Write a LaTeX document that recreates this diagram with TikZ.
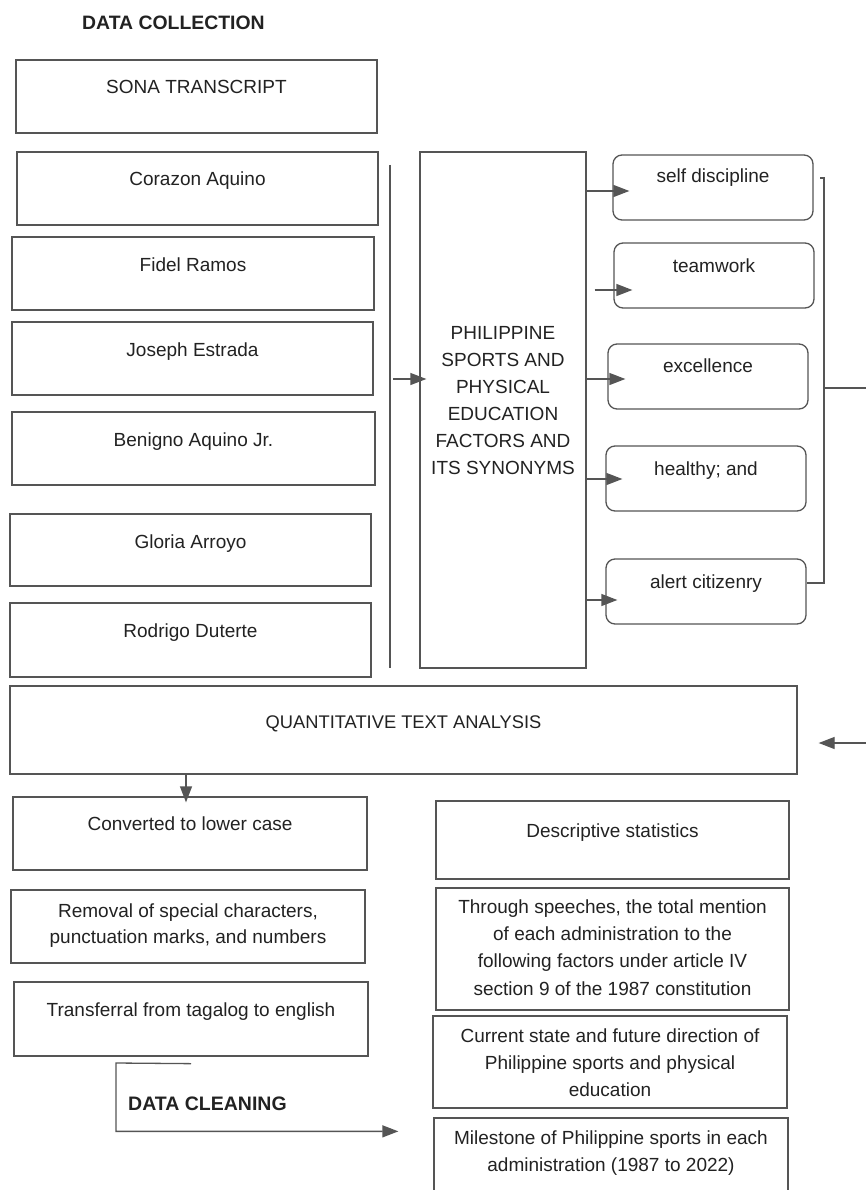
\documentclass[tikz,border=0pt]{standalone}
\usepackage{fontspec}
\setmainfont{Liberation Sans}
\usetikzlibrary{arrows.meta,calc,fit}

\definecolor{edge}{HTML}{555555}
\definecolor{ink}{HTML}{222222}

\tikzset{
  box/.style={draw=edge, line width=1.3pt, inner sep=0pt},
  rbox/.style={box, rounded corners=9pt},
  % multi-line texts sit on the baseline of their last line
  txt/.style={text=ink, anchor=base, inner sep=0pt, align=center,
              font=\fontsize{19}{27}\selectfont},
  head/.style={text=ink, anchor=base west, inner sep=0pt,
              font=\fontsize{19.4}{24}\selectfont\bfseries},
  ln/.style={draw=edge, line width=1.3pt},
  arr/.style={ln, -{Triangle[length=16pt,width=12pt]}, color=edge},
}

% box from its two corners: [style]{name}{top left}{bottom right}
\newcommand{\mkbox}[4][box]{\node[#1, fit={(#3) (#4)}] (#2) {};}

\begin{document}
\begin{tikzpicture}[x=1pt,y=-1pt]
\useasboundingbox (0,0) rectangle (865,1190);
\fill[white] (0,0) rectangle (865,1190);

% ---- data collection ----
\node[head] (hcol) at (82,30) {DATA COLLECTION};

\mkbox{sona}{16,60}{377,133}
\node[txt] (sona-t) at (sona.center |- 0,94) {SONA TRANSCRIPT};

\mkbox{cory}{17,152}{378,225}
\node[txt] (cory-t) at (cory.center |- 0,186) {Corazon Aquino};
\mkbox{fvr}{12,237}{374,310}
\node[txt] (fvr-t) at (fvr.center |- 0,271) {Fidel Ramos};
\mkbox{erap}{12,322}{373,395}
\node[txt] (erap-t) at (erap.center |- 0,356) {Joseph Estrada};
\mkbox{noy}{12,412}{375,485}
\node[txt] (noy-t) at (noy.center |- 0,446) {Benigno Aquino Jr.};
\mkbox{gma}{10,514}{371,586}
\node[txt] (gma-t) at (gma.center |- 0,548) {Gloria Arroyo};
\mkbox{rrd}{10,603}{371,677}
\node[txt] (rrd-t) at (rrd.center |- 0,637) {Rodrigo Duterte};

% ---- factors ----
\mkbox{phil}{420,152}{586,668}
\node[txt] (phil-t) at (phil.center |- 0,474)
  {PHILIPPINE\\SPORTS AND\\PHYSICAL\\EDUCATION\\FACTORS AND\\ITS SYNONYMS};

\mkbox[rbox]{sd}{613,155}{813,220}
\node[txt] (sd-t) at (sd.center |- 0,183) {self discipline};
\mkbox[rbox]{tw}{614,243}{814,308}
\node[txt] (tw-t) at (tw.center |- 0,272) {teamwork};
\mkbox[rbox]{ex}{608,344}{808,409}
\node[txt] (ex-t) at (ex.center |- 0,372) {excellence};
\mkbox[rbox]{hl}{606,446}{806,511}
\node[txt] (hl-t) at (hl.center |- 0,475) {healthy; and};
\mkbox[rbox]{al}{606,559}{806,624}
\node[txt] (al-t) at (al.center |- 0,588) {alert citizenry};

% presidents gathered into the factor list
\coordinate (vt) at (390,165);
\coordinate (vb) at (390,668);
\draw[ln] (vt) -- (vb);
\coordinate (vm) at (393,379);
\coordinate (ph-in) at ($(phil.west |- vm)+(7,0)$);
\draw[arr] (vm) -- (ph-in);

% factor list to each factor
\coordinate (sd-in) at ($(sd.west)+(17,3.5)$);
\draw[arr] (phil.east |- sd-in) -- (sd-in);
\coordinate (tw-in) at ($(tw.west)+(19,14.5)$);
\coordinate (tw-out) at ($(phil.east |- tw-in)+(8,0)$);
\draw[arr] (tw-out) -- (tw-in);
\coordinate (ex-in) at ($(ex.west)+(18,2.5)$);
\draw[arr] (phil.east |- ex-in) -- (ex-in);
\coordinate (hl-in) at ($(hl.west)+(17,0.5)$);
\draw[arr] (phil.east |- hl-in) -- (hl-in);
\coordinate (al-in) at ($(al.west)+(12,8.5)$);
\draw[arr] ($(phil.east |- al-in)+(-1,0)$) -- (al-in);

% bracket over the factors
\coordinate (bt) at (824,178);
\coordinate (bb) at (824,583);
\draw[ln] ($(bt)+(-4,0)$) -- (bt) -- (bb) -- (al.east |- bb);
\coordinate (bm) at (824,388);
\draw[ln] (bm) -- (872,388);

% ---- analysis ----
\mkbox{qta}{10,686}{797,774}
\node[txt, font=\fontsize{18.3}{24}\selectfont] (qta-t) at (qta.center |- 0,728) {QUANTITATIVE TEXT ANALYSIS};
\coordinate (q-src) at (872,743);
\coordinate (q-in) at ($(qta.east)+(21,13)$);
\draw[arr] (q-src) -- (q-in);

\mkbox{low}{13,797}{367,870}
\node[txt] (low-t) at (low.center |- 0,830) {Converted to lower case};
\coordinate (low-in) at ($(low.north)+(-4,6)$);
\draw[arr] (qta.south -| low-in) -- (low-in);

\mkbox{rem}{11,890}{365,963}
\node[txt, font=\fontsize{19}{26}\selectfont] (rem-t) at (rem.center |- 0,943)
  {Removal of special characters,\\punctuation marks, and numbers};
\mkbox{trans}{14,982}{368,1056}
\node[txt] (trans-t) at (trans.center |- 0,1016) {Transferral from tagalog to english};

% ---- outputs ----
\mkbox{desc}{436,801}{789,879}
\node[txt] (desc-t) at (desc.center |- 0,837) {Descriptive statistics};
\mkbox{thru}{436,888}{789,1010}
\node[txt, font=\fontsize{19}{27.3}\selectfont] (thru-t) at (thru.center |- 0,995)
  {Through speeches, the total mention\\of each administration to the\\following factors under article IV\\section 9 of the 1987 constitution};
\mkbox{cur}{433,1016}{787,1108}
\node[txt] (cur-t) at (cur.center |- 0,1096)
  {Current state and future direction of\\Philippine sports and physical\\education};
\mkbox{mile}{434,1118}{788,1210}
\node[txt] (mile-t) at (mile.center |- 0,1171)
  {Milestone of Philippine sports in each\\administration (1987 to 2022)};

% data cleaning path
\coordinate (dc-s) at ($(trans.south)+(0,7)$);
\coordinate (dc-in) at ($(mile.north west)+(-35,14)$);
\draw[arr] (dc-s) -- (116,1063) |- (dc-in);
\node[head, font=\fontsize{19.5}{24}\selectfont\bfseries] (hcln) at (128,1110) {DATA CLEANING};

\end{tikzpicture}
\end{document}
